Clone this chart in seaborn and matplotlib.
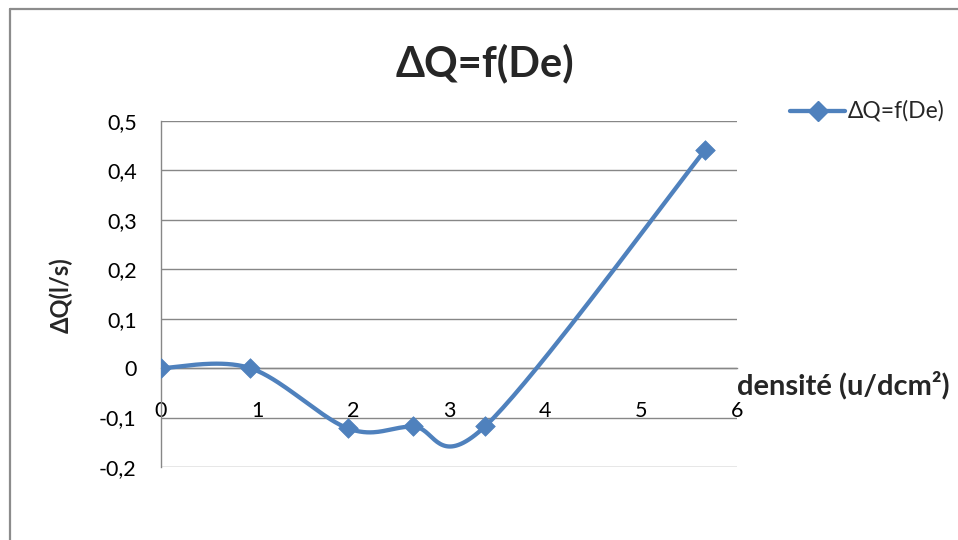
import numpy as np
import pandas as pd
import seaborn as sns
import matplotlib
matplotlib.use("Agg")
import matplotlib.pyplot as plt
from matplotlib.lines import Line2D

# données
densite = [0.0, 0.93, 1.95, 2.62, 3.38, 5.67]
delta_q = [0.0, 0.0, -0.122, -0.118, -0.117, 0.442]
x_ticks = [0, 1, 2, 3, 4, 5, 6]
y_ticks = [-0.2, -0.1, 0.0, 0.1, 0.2, 0.3, 0.4, 0.5]
y_labels = ["-0,2", "-0,1", "0", "0,1", "0,2", "0,3", "0,4", "0,5"]

bleu = "#4F81BD"
gris = "#878787"

sns.set_style("white")
plt.rcParams['font.family'] = ['Lato', 'DejaVu Sans']


# courbe lissée façon Excel (Bezier type Catmull-Rom)
def lissage(xs, ys, n=40):
    p = np.column_stack([xs, ys])
    pts = []
    for i in range(len(p) - 1):
        p0 = p[i - 1] if i > 0 else p[i]
        p1, p2 = p[i], p[i + 1]
        p3 = p[i + 2] if i + 2 < len(p) else p[i + 1]
        c1 = p1 + (p2 - p0) / 6
        c2 = p2 - (p3 - p1) / 6
        t = np.linspace(0, 1, n)[:, None]
        seg = (1 - t) ** 3 * p1 + 3 * (1 - t) ** 2 * t * c1 + 3 * (1 - t) * t ** 2 * c2 + t ** 3 * p2
        pts.append(seg if i == 0 else seg[1:])
    pts = np.vstack(pts)
    return pts[:, 0], pts[:, 1]


cx, cy = lissage(densite, delta_q)
df = pd.DataFrame({"densite": densite, "dq": delta_q})

fig = plt.figure(figsize=(9.58, 5.40), dpi=100)
ax = fig.add_axes([161 / 958, (540 - 467) / 540, (737 - 161) / 958, (467 - 121) / 540])

for y in y_ticks:
    ax.axhline(y, color=gris, lw=1.0, zorder=1)

sns.lineplot(x=cx, y=cy, sort=False, estimator=None, color=bleu, lw=3.1, ax=ax, zorder=3)
sns.scatterplot(data=df, x="densite", y="dq", marker="D", s=100, color=bleu,
                edgecolor=bleu, linewidth=0.5, ax=ax, zorder=4, legend=False)

ax.set_xlim(0, 6)
ax.set_ylim(-0.2, 0.5)
ax.set_xticks(x_ticks)
ax.set_xticklabels([str(v) for v in x_ticks])
ax.set_yticks(y_ticks)
ax.set_yticklabels(y_labels)

for s in ["top", "right"]:
    ax.spines[s].set_visible(False)
ax.spines["bottom"].set_position(("data", 0))
ax.spines["bottom"].set_color(gris)
ax.spines["left"].set_color(gris)
ax.spines["bottom"].set_linewidth(1.0)
ax.spines["left"].set_linewidth(1.0)

ax.tick_params(axis="x", direction="out", length=4.5, width=1.0, color=gris,
               pad=19, labelsize=15.5, labelcolor="black")
ax.tick_params(axis="y", direction="out", length=4.5, width=1.0, color=gris,
               pad=13, labelsize=15.5, labelcolor="black")
ax.set_xlabel("")
ax.set_ylabel("")

fig.text(485 / 958, 1 - 63 / 540, "ΔQ=f(De)", ha="center", va="center",
         fontsize=30, fontweight="bold")
fig.text(61 / 958, 1 - 295 / 540, "ΔQ(l/s)", ha="center", va="center",
         rotation=90, fontsize=17, fontweight="bold")
fig.text(737 / 958, 1 - 385 / 540, "densité (u/dcm²)", ha="left", va="center",
         fontsize=21, fontweight="bold")

# légende
fig.add_artist(Line2D([790 / 958, 845 / 958], [1 - 111 / 540] * 2, color=bleu, lw=3.1))
fig.add_artist(Line2D([817.5 / 958], [1 - 111 / 540], marker="D", markersize=10,
                      color=bleu, lw=0))
fig.text(848 / 958, 1 - 111 / 540, "ΔQ=f(De)", ha="left", va="center", fontsize=16.5)

# cadre du graphique
fig.add_artist(Line2D([10 / 958, 10 / 958], [0, 1 - 9 / 540], color="#8c8c8c", lw=1.6))
fig.add_artist(Line2D([10 / 958, 1], [1 - 9 / 540] * 2, color="#8c8c8c", lw=1.6))

fig.savefig("out.png", dpi=100)
